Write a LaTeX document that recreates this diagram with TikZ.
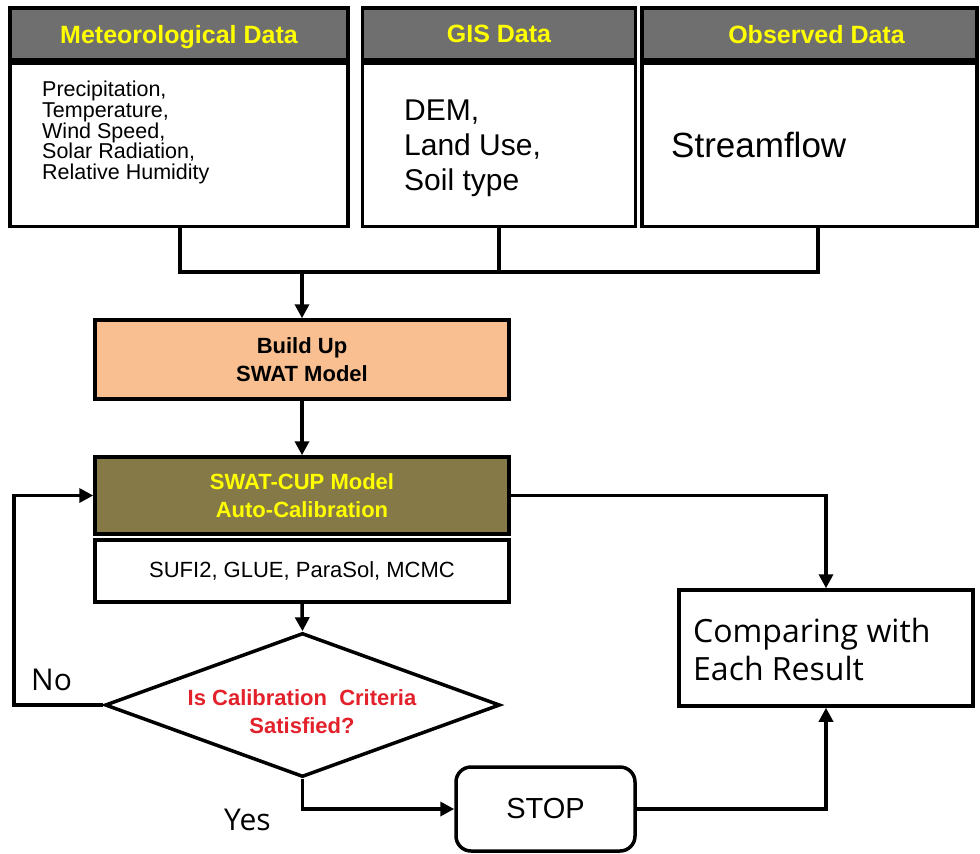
\documentclass[tikz,border=0pt]{standalone}
\usepackage{fontspec}
\setmainfont{Liberation Sans}
\newfontfamily\malg{Open Sans}
\usetikzlibrary{arrows.meta,shapes.geometric}
\definecolor{hdrgray}{HTML}{6F6F6F}
\definecolor{hdryellow}{HTML}{FFFF00}
\definecolor{peach}{HTML}{F9BF90}
\definecolor{olivebox}{HTML}{857A47}
\definecolor{critred}{HTML}{E3212B}
\begin{document}
\begin{tikzpicture}[x=1pt,y=-1pt,
 box/.style={draw=black, line width=3.5pt, rectangle, inner sep=0pt},
 hdr/.style={box, fill=hdrgray, text=hdryellow, font=\bfseries\fontsize{25}{28}\selectfont, text depth=0pt, minimum height=52pt},
 body/.style={box, fill=white, minimum height=163pt},
 conn/.style={line width=3.5pt},
 arr/.style={conn, -{Triangle[length=14pt,width=14pt]}},
 txt/.style={inner sep=0pt, align=left},
]
\useasboundingbox[fill=white] (0,0) rectangle (980,854);

% top row
\node[hdr, minimum width=338pt] (mh) at (179,34) {Meteorological Data};
\node[body, minimum width=338pt] (mb) at (179,145) {};
\node[txt, anchor=north west, font=\fontsize{21.5}{20.7}\selectfont] (mt) at (42,81)
  {Precipitation,\\Temperature,\\Wind Speed,\\Solar Radiation,\\Relative Humidity};

\node[hdr, minimum width=273pt] (gh) at (499,34) {GIS Data};
\node[body, minimum width=273pt] (gb) at (499,145) {};
\node[txt, anchor=north west, font=\fontsize{30}{35}\selectfont] (gt) at (404,100)
  {DEM,\\Land Use,\\Soil type};

\node[hdr, minimum width=335pt] (oh) at (809.5,34) {\hspace*{14pt}Observed Data};
\node[body, minimum width=335pt] (ob) at (809.5,145) {};
\node[txt, anchor=base west, font=\fontsize{35}{40}\selectfont] (ot) at (671,157) {Streamflow};

% middle
\node[box, fill=peach, minimum width=414pt, minimum height=79pt, align=center,
  font=\bfseries\fontsize{22}{28}\selectfont] (build) at (302,359.5) {Build Up\\SWAT Model};
\node[box, fill=olivebox, text=hdryellow, minimum width=414pt, minimum height=77pt, align=center,
  font=\bfseries\fontsize{22}{28}\selectfont] (swat) at (302,495.5) {SWAT-CUP Model\\Auto-Calibration};
\node[box, fill=white, minimum width=414pt, minimum height=62pt,
  font=\fontsize{22}{26}\selectfont] (sufi) at (302,571) {SUFI2, GLUE, ParaSol, MCMC};

% decision
\node[diamond, draw=black, line width=3.5pt, fill=white, minimum width=395pt, minimum height=144pt, inner sep=0pt] (dia) at (302.5,705) {};
\node[txt, align=center, text=critred, font=\bfseries\fontsize{22}{28}\selectfont] (diat) at (302,712)
  {Is Calibration\ \ Criteria\\Satisfied?};

% right side
\node[box, fill=white, minimum width=294pt, minimum height=116pt] (comp) at (826,648) {};
\node[txt, anchor=base west, font=\malg\fontsize{32}{38}\selectfont] (compt) at (693,680)
  {Comparing with\\Each Result};
\node[box, rounded corners=15pt, fill=white, minimum width=179pt, minimum height=84pt,
  font=\fontsize{29}{34}\selectfont] (stop) at (545.5,809) {STOP};

% labels
\node[txt, anchor=base west, font=\malg\fontsize{30}{36}\selectfont] (no) at (31,690) {No};
\node[txt, anchor=base west, font=\malg\fontsize{30}{36}\selectfont] (yes) at (224,830) {Yes};

% connectors
\coordinate (busL) at (180,272);
\coordinate (busR) at (818,272);
\coordinate (busM) at (302,272);
\coordinate (loopc) at (14,705);
\draw[conn] (mb.south -| busL) |- (busR) -- (ob.south -| busR);
\draw[conn] (gb.south) -- (gb.south |- busR);
\draw[arr] (busM) -- (build.north);
\draw[arr] (build.south) -- (swat.north);
\draw[arr] (sufi.south) -- (dia.north);
\draw[arr] (dia.west) -- (loopc) |- (swat.west);
\draw[arr] (swat.east) -| (comp.north);
\draw[arr] (dia.south) |- (stop.west);
\draw[arr] (stop.east) -| (comp.south);
\end{tikzpicture}
\end{document}
